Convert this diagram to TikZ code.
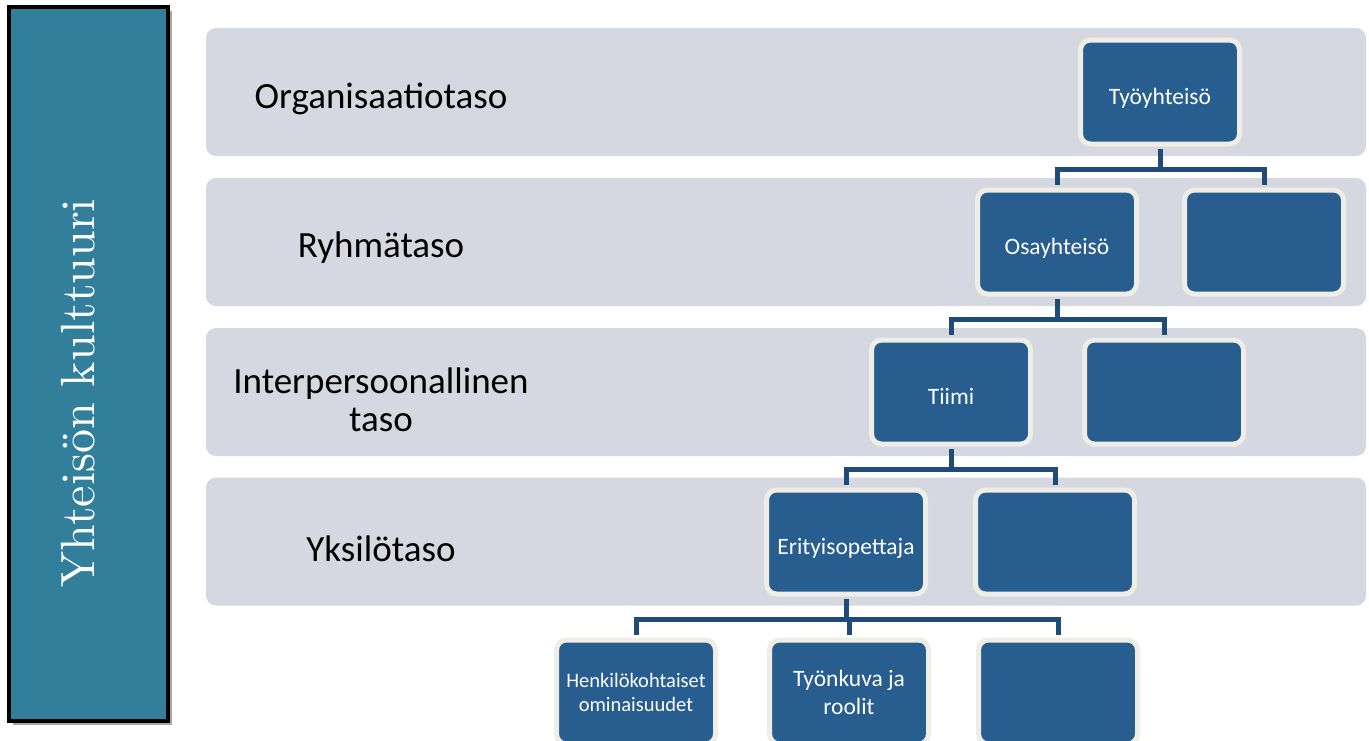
\documentclass[tikz,border=0pt]{standalone}
\usepackage{fontspec}
\newfontfamily\calibri{Carlito}
\newfontfamily\kulttuurifont{lmroman10-regular.otf}
\usetikzlibrary{shadows, positioning}
\definecolor{turkoosi}{HTML}{317F9A}
\definecolor{kaistaharmaa}{HTML}{D5D8E0}
\definecolor{laatikkosini}{HTML}{285D8F}
\definecolor{reunakerma}{HTML}{EFEEE6}
\definecolor{yhteyssini}{HTML}{1F4B78}
\tikzset{
    kaista/.style={fill=kaistaharmaa, rounded corners=10pt, minimum width=1160pt, minimum height=128pt, inner sep=0pt},
    otsikko/.style={font=\calibri\fontsize{37}{38}\selectfont, align=center, text=black},
    laatikko/.style={draw=reunakerma, fill=laatikkosini, line width=5pt, rounded corners=10pt, minimum width=159pt, minimum height=104pt, inner sep=2pt, text=white, align=center, font=\calibri\fontsize{23.5}{28}\selectfont},
    yksirivi/.style={text height=24pt, text depth=0pt},
    yhteys/.style={draw=yhteyssini, line width=5pt, shorten <=2.5pt, shorten >=2.5pt},
}

\begin{document}
\begin{tikzpicture}[x=1pt, y=-1pt]
\fill[white] (0,0) rectangle (1369,740);
\useasboundingbox (0,0) rectangle (1369,740);
\clip (0,0) rectangle (1369,740);
% Vasen paneeli: Yhteisön kulttuuri
\node[draw=black, line width=4pt, fill=turkoosi, minimum width=159pt, minimum height=714pt,
      drop shadow={shadow xshift=4pt, shadow yshift=-4pt, opacity=0.35, fill=black}] (kulttuuri) at (88.5,364) {};
\node[rotate=90, text=white, font=\kulttuurifont\fontsize{48}{50}\selectfont] (kulttuuriteksti) at (78,393) {Yhteisön kulttuuri};
% Kaistat
\node[kaista] (organisaatio) at (786,92) {};
\node[kaista] (ryhma) at (786,242) {};
\node[kaista] (inter) at (786,392) {};
\node[kaista] (yksilo) at (786,541.5) {};
\node[otsikko] (organisaatioteksti) at (381,99) {Organisaatiotaso};
\node[otsikko] (ryhmateksti) at (381,248) {Ryhmätaso};
\node[otsikko] (interteksti) at (381,400) {Interpersoonallinen\\taso};
\node[otsikko] (yksiloteksti) at (381,549) {Yksilötaso};
% Taso 1
\node[laatikko, yksirivi] (tyoyhteiso) at (1160,92) {Työyhteisö};
% Taso 2
\node[laatikko, yksirivi] (osayhteiso) at (1057,242) {Osayhteisö};
\node[laatikko] (ryhmatyhja) at (1264,242) {};
% Taso 3
\node[laatikko, yksirivi] (tiimi) at (951,392) {Tiimi};
\node[laatikko] (tiimityhja) at (1164,392) {};
% Taso 4
\node[laatikko, yksirivi] (erityisopettaja) at (846,542) {Erityisopettaja};
\node[laatikko] (yksilotyhja) at (1055,542) {};
% Taso 5
\node[laatikko, font=\calibri\fontsize{20.5}{24}\selectfont] (henkilo) at (636,692) {Henkilökohtaiset\\ominaisuudet};
\node[laatikko] (tyonkuva) at (849,692) {Työnkuva ja\\roolit};
\node[laatikko] (alatyhja) at (1058,692) {};
% Yhteydet
\foreach \lapsi in {osayhteiso, ryhmatyhja} {
    \draw[yhteys] (tyoyhteiso.south) -- ++(0,23) -| (\lapsi.north);
}
\foreach \lapsi in {tiimi, tiimityhja} {
    \draw[yhteys] (osayhteiso.south) -- ++(0,23) -| (\lapsi.north);
}
\foreach \lapsi in {erityisopettaja, yksilotyhja} {
    \draw[yhteys] (tiimi.south) -- ++(0,23) -| (\lapsi.north);
}
\foreach \lapsi in {henkilo, tyonkuva, alatyhja} {
    \draw[yhteys] (erityisopettaja.south) -- ++(0,23) -| (\lapsi.north);
}
\end{tikzpicture}
\end{document}
